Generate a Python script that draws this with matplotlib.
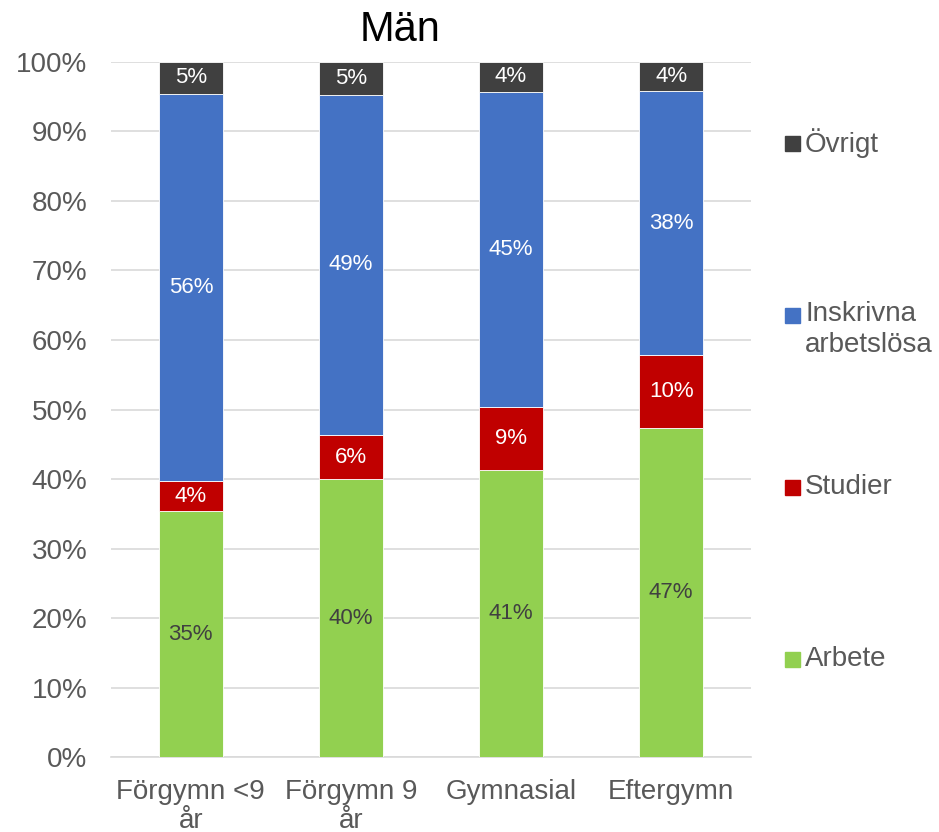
import matplotlib
matplotlib.use('Agg')
import matplotlib.pyplot as plt
from matplotlib.patches import Rectangle
import numpy as np

plt.rcParams['font.family'] = ['Liberation Sans', 'DejaVu Sans']

categories = ['Förgymn <9\når', 'Förgymn 9\når', 'Gymnasial', 'Eftergymn']
series = ['Arbete', 'Studier', 'Inskrivna\narbetslösa', 'Övrigt']
arbete = [35.4, 40.0, 41.3, 47.4]
studier = [4.3, 6.3, 9.1, 10.4]
inskrivna = [55.7, 49.0, 45.3, 38.0]
ovrigt = [4.6, 4.7, 4.3, 4.2]
colors = ['#92D050', '#C00000', '#4472C4', '#404040']
label_colors = ['#404040', 'white', 'white', 'white']
gray = '#595959'

fig = plt.figure(figsize=(9.39, 8.32), dpi=100)
ax = fig.add_axes([0.118, 0.0901, 0.682, 0.8354])

x = np.arange(len(categories))
bottom = np.zeros(len(categories))
for vals, c, lc in zip([arbete, studier, inskrivna, ovrigt], colors, label_colors):
    vals = np.array(vals)
    ax.bar(x, vals, 0.4, bottom=bottom, color=c, edgecolor='white', linewidth=0.6, zorder=3)
    for xi, b, v in zip(x, bottom, vals):
        ax.text(xi, b + v / 2, f'{round(v):.0f}%', ha='center', va='center',
                color=lc, fontsize=16, zorder=4)
    bottom += vals

ax.set_xlim(-0.5, 3.5)
ax.set_ylim(0, 100)
ax.set_yticks(range(0, 101, 10))
ax.set_yticklabels([f'{v}%' for v in range(0, 101, 10)])
ax.set_xticks(x)
ax.set_xticklabels(categories, linespacing=1.12)
ax.tick_params(length=0, labelsize=20, colors=gray)
ax.tick_params(axis='x', pad=16)
ax.tick_params(axis='y', pad=17)
ax.yaxis.grid(True, color='#D9D9D9', linewidth=1.2, zorder=0)
for s in ['top', 'right', 'left']:
    ax.spines[s].set_visible(False)
ax.spines['bottom'].set_color('#D9D9D9')
ax.spines['bottom'].set_linewidth(1.2)

fig.text(400 / 939, 1 - 30 / 832, 'Män', ha='center', va='center', fontsize=30, color='black')

# legend, placed by hand as in the original
leg_y = [659, 487, 315, 143]
leg_names = ['Arbete', 'Studier', 'Inskrivna\narbetslösa', 'Övrigt']
for yy, name, c in zip(leg_y, leg_names, colors):
    fig.patches.append(Rectangle((785 / 939, 1 - (yy + 7.5) / 832), 15 / 939, 15 / 832,
                                 transform=fig.transFigure, color=c))
    if '\n' in name:
        fig.text(805 / 939, 1 - (yy - 14) / 832, name, ha='left', va='top',
                 fontsize=20, color=gray, linespacing=1.25)
    else:
        fig.text(805 / 939, 1 - yy / 832, name, ha='left', va='center',
                 fontsize=20, color=gray)

fig.savefig('out.png', dpi=100)
